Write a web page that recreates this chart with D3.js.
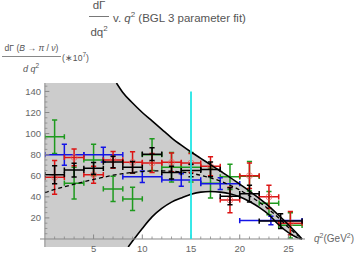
<!DOCTYPE html>
<html>
<head>
<meta charset="utf-8">
<script src="https://cdn.jsdelivr.net/npm/d3@7"></script>
<style>
  body { margin: 0; background: #fff; }
  svg { display: block; font-family: "Liberation Sans", Arial, sans-serif; }
</style>
</head>
<body>
<svg id="chart" width="360" height="256"></svg>
<script>
// q^2 bins (GeV^2)
const bins2 = [[0,2],[2,4],[4,6],[6,8],[8,10],[10,12],[12,14],[14,16],[16,18],[18,20],[20,22],[22,24],[24,26.4]]
const bins12 = [[0,2],[2,4],[4,6],[6,8],[8,10],[10,12],[12,14],[14,16],[16,18],[18,20],[20,22],[22,26.4]]
const bins6 = [[0,4],[4,8],[8,12],[12,16],[16,20],[20,26.4]]

// measured dGamma/dq^2 (x10^7) and errors
const greenVals = [97, 53, 75, 47.5, 38, 80, 68, 68, 53, 59, 59.5, 34, 13]
const greenErrs = [16, 15, 15, 12, 11, 15, 14, 14, 14, 12, 14, 11, 12]
const redVals = [58.5, 77.4, 61, 75, 72.7, 72, 72.7, 72, 69, 37, 60, 40, 15]
const redErrs = [16, 8, 8, 8, 10, 9, 9, 9, 9, 12, 12, 11, 11]
const blackVals = [61, 65.4, 67, 73, 68, 80.5, 63, 65, 66, 40.5, 43, 17]
const blackErrs = [8.5, 6.5, 5.5, 5.5, 5.5, 6, 6, 6, 7, 8, 8, 7]
const blueVals = [80, 80, 59, 56, 52.5, 17.5]
const blueErrs = [10, 7, 5.5, 6, 5.5, 4]

// BGL fit: central value and error band edges [q2, value]
const fitCentral = [[0,44],[1,47],[2,49.6],[3,52],[4,54.3],[5,56.5],[6,58.5],[7,60.5],[8,62],[9,63.2],[10,64],[11,64.5],[12,64.6],[13,64.3],[14,63.5],[15,62.3],[16,60.5],[17,58],[18,55],[19,51],[20,46.5],[21,41],[22,35],[23,28],[24,20],[25,11],[26,3],[26.4,0]]
const fitUpper = [[7.35,148],[8,139],[9,129],[10,120],[11,112],[12,104],[13,96],[14,89],[15,82.5],[16,76.5],[17,70.5],[18,64.5],[19,58.5],[20,52],[21,45.5],[22,38.5],[23,31],[24,22.5],[25,13.5],[26,4],[26.4,0]]
const fitLower = [[8.55,-8],[9,-2],[10,10],[11,21],[12,29],[13,35],[14,39],[15,42.5],[16,44.5],[17,45],[18,44.5],[19,43],[20,40],[21,35.5],[22,30],[23,23],[24,13.5],[25,6],[26,1],[26.4,0]]

const cutQ2 = 15
const cutTop = 140

const xMajor = [5, 10, 15, 20, 25]
const yMajor = [20, 40, 60, 80, 100, 120, 140]

const svg = d3.select('#chart')
const x = d3.scaleLinear().domain([-0.5, 26.7]).range([40, 305])
const y = d3.scaleLinear().domain([-7.6, 148]).range([247, 83]).clamp(true)

const axisColor = '#888'
const labelColor = '#666'

// clip to plot area
svg.append('clipPath').attr('id', 'plotclip')
  .append('rect')
  .attr('x', x(0)).attr('y', y(148))
  .attr('width', x(26.7) - x(0)).attr('height', y(-7.6) - y(148))

const plot = svg.append('g').attr('clip-path', 'url(#plotclip)')

const yd = y.domain()
const lineGen = d3.line().x(d => x(d[0])).y(d => y(d[1])).curve(d3.curveMonotoneX)

// gray error band, filled up to the plot edges where the curves leave it
plot.append('path')
  .attr('d', () => {
    const up = lineGen(fitUpper)
    const lo = lineGen(fitLower.slice().reverse())
    return 'M' + x(0) + ',' + y(yd[1]) + 'L' + up.slice(1) + 'L' + lo.slice(1) + 'L' + x(0) + ',' + y(yd[0]) + 'Z'
  })
  .attr('fill', '#cccccc')

// axes
const axes = svg.append('g')
axes.append('line')
  .attr('x1', x(-0.5)).attr('x2', x(26.7))
  .attr('y1', y(0)).attr('y2', y(0))
  .attr('stroke', axisColor).attr('stroke-width', 1)
axes.append('line')
  .attr('x1', x(0)).attr('x2', x(0))
  .attr('y1', y(-7.6)).attr('y2', y(148))
  .attr('stroke', axisColor).attr('stroke-width', 1)

// x ticks
const xMinor = d3.range(1, 27).filter(v => v % 5 !== 0)
axes.selectAll('.xmin').data(xMinor).enter().append('line')
  .attr('x1', d => x(d)).attr('x2', d => x(d))
  .attr('y1', y(0)).attr('y2', y(0) - 2.5)
  .attr('stroke', axisColor).attr('stroke-width', 0.8)
axes.selectAll('.xmaj').data(xMajor).enter().append('line')
  .attr('x1', d => x(d)).attr('x2', d => x(d))
  .attr('y1', y(0)).attr('y2', y(0) - 4.5)
  .attr('stroke', axisColor).attr('stroke-width', 1)
axes.selectAll('.xlab').data(xMajor).enter().append('text')
  .attr('x', d => x(d)).attr('y', 252)
  .attr('text-anchor', 'middle')
  .attr('font-size', 9.5).attr('fill', labelColor)
  .text(d => d)

// y ticks
const yMinor = d3.range(5, 148, 5).filter(v => v % 20 !== 0)
axes.selectAll('.ymin').data(yMinor).enter().append('line')
  .attr('x1', x(0)).attr('x2', x(0) + 2.5)
  .attr('y1', d => y(d)).attr('y2', d => y(d))
  .attr('stroke', axisColor).attr('stroke-width', 0.8)
axes.selectAll('.ymaj').data(yMajor).enter().append('line')
  .attr('x1', x(0)).attr('x2', x(0) + 4.5)
  .attr('y1', d => y(d)).attr('y2', d => y(d))
  .attr('stroke', axisColor).attr('stroke-width', 1)
axes.selectAll('.ylab').data(yMajor).enter().append('text')
  .attr('x', 41).attr('y', d => y(d))
  .attr('dy', '0.35em')
  .attr('text-anchor', 'end')
  .attr('font-size', 9.5).attr('fill', labelColor)
  .text(d => d)

// data points with error bars
function errorBars (bins, vals, errs, color, circles) {
  const g = plot.append('g').attr('stroke', color).attr('stroke-width', 1.5).attr('fill', 'none')
  const cap = 2.6
  vals.forEach((v, i) => {
    const x0 = x(bins[i][0]), x1 = x(bins[i][1])
    const xc = x((bins[i][0] + bins[i][1]) / 2)
    const yc = y(v), yt = y(v + errs[i]), yb = y(v - errs[i])
    g.append('line').attr('x1', x0).attr('x2', x1).attr('y1', yc).attr('y2', yc)
    g.append('line').attr('x1', x0).attr('x2', x0).attr('y1', yc - cap).attr('y2', yc + cap)
    g.append('line').attr('x1', x1).attr('x2', x1).attr('y1', yc - cap).attr('y2', yc + cap)
    g.append('line').attr('x1', xc).attr('x2', xc).attr('y1', yt).attr('y2', yb)
    g.append('line').attr('x1', xc - cap).attr('x2', xc + cap).attr('y1', yt).attr('y2', yt)
    g.append('line').attr('x1', xc - cap).attr('x2', xc + cap).attr('y1', yb).attr('y2', yb)
    if (circles) {
      g.append('circle').attr('cx', xc).attr('cy', yc).attr('r', 3)
        .attr('stroke', 'rgba(235,90,90,0.7)').attr('stroke-width', 1)
    }
  })
}

errorBars(bins2, greenVals, greenErrs, '#1e9a1e', false)
errorBars(bins6, blueVals, blueErrs, '#1414e6', false)
errorBars(bins2, redVals, redErrs, '#dc1414', true)
errorBars(bins12, blackVals, blackErrs, '#000', false)

// fit curves
plot.append('path').attr('d', lineGen(fitUpper))
  .attr('fill', 'none').attr('stroke', '#000').attr('stroke-width', 1.6)
plot.append('path').attr('d', lineGen(fitLower))
  .attr('fill', 'none').attr('stroke', '#000').attr('stroke-width', 1.6)
plot.append('path').attr('d', lineGen(fitCentral))
  .attr('fill', 'none').attr('stroke', '#000').attr('stroke-width', 1.3)
  .attr('stroke-dasharray', '4,3')

// cut line
svg.append('line')
  .attr('x1', x(cutQ2)).attr('x2', x(cutQ2))
  .attr('y1', y(0)).attr('y2', y(cutTop))
  .attr('stroke', '#22e6e6').attr('stroke-width', 1.8)

// x axis label
const xl = svg.append('text').attr('x', 314).attr('y', 242)
  .attr('font-size', 10).attr('fill', labelColor)
xl.append('tspan').attr('font-style', 'italic').text('q')
xl.append('tspan').attr('dy', -4).attr('font-size', 7).text('2')
xl.append('tspan').attr('dy', 4).text('(GeV')
xl.append('tspan').attr('dy', -4).attr('font-size', 7).text('2')
xl.append('tspan').attr('dy', 4).text(')')

// title
const titleColor = '#555'
svg.append('text').attr('x', 99).attr('y', 9)
  .attr('text-anchor', 'middle').attr('font-size', 11.5).attr('fill', titleColor)
  .text('dΓ')
svg.append('line').attr('x1', 89).attr('x2', 109).attr('y1', 16.5).attr('y2', 16.5)
  .attr('stroke', titleColor).attr('stroke-width', 0.8)
const den = svg.append('text').attr('x', 99).attr('y', 36)
  .attr('text-anchor', 'middle').attr('font-size', 11.5).attr('fill', titleColor)
den.append('tspan').text('dq')
den.append('tspan').attr('dy', -5).attr('font-size', 8).text('2')
const tt = svg.append('text').attr('x', 113).attr('y', 21.5)
  .attr('font-size', 11.5).attr('fill', titleColor)
tt.append('tspan').text('v. ')
tt.append('tspan').attr('font-style', 'italic').text('q')
tt.append('tspan').attr('dy', -5).attr('font-size', 8).text('2')
tt.append('tspan').attr('dy', 5).text(' (BGL 3 parameter fit)')

// y axis label
const yNum = svg.append('text').attr('x', 31.5).attr('y', 51)
  .attr('text-anchor', 'middle').attr('font-size', 8.6).attr('fill', titleColor)
yNum.append('tspan').text('dΓ (')
yNum.append('tspan').attr('font-style', 'italic').text('B')
yNum.append('tspan').text(' → ')
yNum.append('tspan').attr('font-style', 'italic').text('π')
yNum.append('tspan').text(' / ')
yNum.append('tspan').attr('font-style', 'italic').text('ν')
yNum.append('tspan').text(')')
svg.append('line').attr('x1', 2).attr('x2', 61).attr('y1', 56.5).attr('y2', 56.5)
  .attr('stroke', titleColor).attr('stroke-width', 0.7)
const yDen = svg.append('text').attr('x', 31).attr('y', 71.5)
  .attr('text-anchor', 'middle').attr('font-size', 9).attr('fill', titleColor)
yDen.append('tspan').attr('font-style', 'italic').text('d q')
yDen.append('tspan').attr('dy', -4).attr('font-size', 6.5).text('2')
const yMul = svg.append('text').attr('x', 62).attr('y', 61)
  .attr('font-size', 8.6).attr('fill', titleColor)
yMul.append('tspan').text('(∗10')
yMul.append('tspan').attr('dy', -4).attr('font-size', 6.5).text('7')
yMul.append('tspan').attr('dy', 4).text(')')
</script>
</body>
</html>
